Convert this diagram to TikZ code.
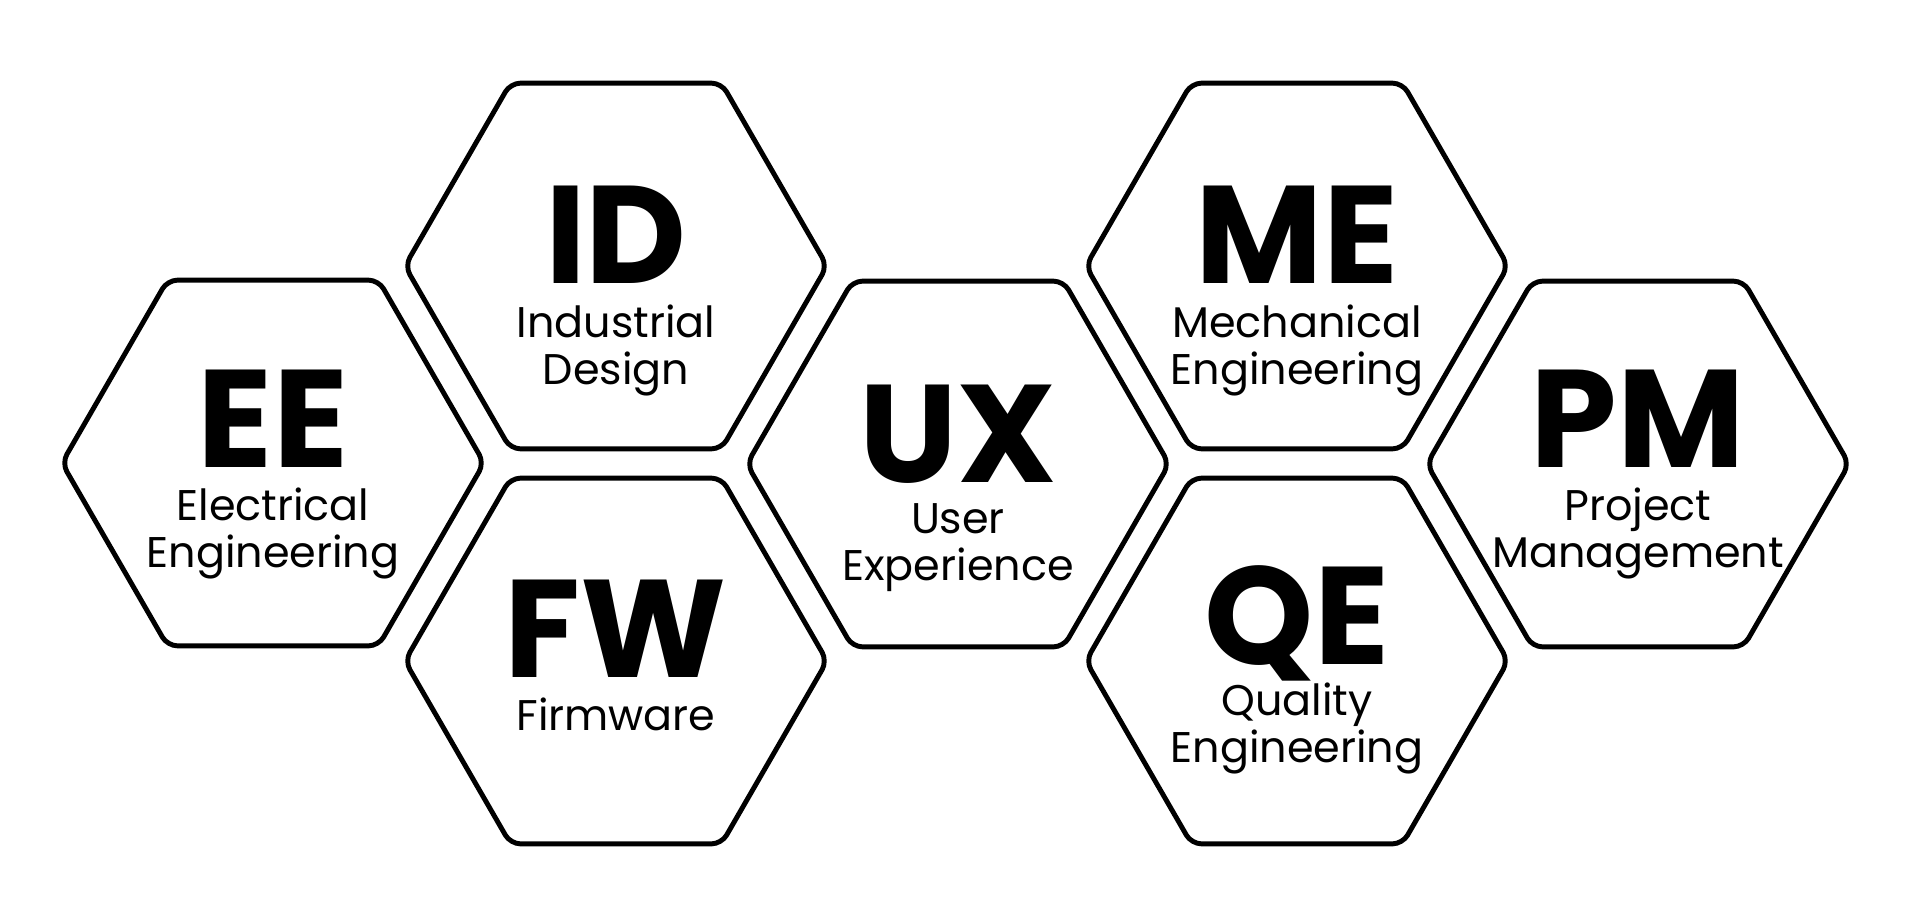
\documentclass[tikz,border=0pt]{standalone}
\usepackage{fontspec}
\setmainfont{Poppins}
\usetikzlibrary{shapes.geometric,positioning}

\begin{document}
\begin{tikzpicture}[
x=0.01cm, y=-0.01cm,
hexa/.style={draw=black, line width=1.4pt, regular polygon, regular polygon sides=6, minimum size=4.22cm, inner sep=0pt, rounded corners=2.8pt},
abbr/.style={anchor=base, inner sep=0pt, font=\fontsize{39.5}{40}\selectfont\bfseries},
sublabel/.style={anchor=base, inner sep=0pt, text width=3.2cm, align=center, font=\fontsize{12.2}{13.6}\selectfont}
]
\useasboundingbox (0,0) rectangle (1920,900);
% cells
\node[hexa] (ee) at (273,463) {};
\node[hexa] (id) at (616,266) {};
\node[hexa] (fw) at (616,661) {};
\node[hexa] (ux) at (958,464) {};
\node[hexa] (me) at (1297,266) {};
\node[hexa] (qe) at (1297,661) {};
\node[hexa] (pm) at (1638,464) {};
% labels
\node[abbr] (ee-a) at (273,467) {EE};
\node[sublabel] (ee-t) at (273,520) {Electrical\\Engineering};
\node[abbr] (id-a) at (616,283) {ID};
\node[sublabel] (id-t) at (616,337) {Industrial\\Design};
\node[abbr] (fw-a) at (616,677) {FW};
\node[sublabel] (fw-t) at (616,730) {Firmware};
\node[abbr] (ux-a) at (958,482) {UX};
\node[sublabel] (ux-t) at (958,533) {User\\Experience};
\node[abbr] (me-a) at (1297,283) {ME};
\node[sublabel] (me-t) at (1297,337) {Mechanical\\Engineering};
\node[abbr] (qe-a) at (1297,664) {QE};
\node[sublabel] (qe-t) at (1297,715) {Quality\\Engineering};
\node[abbr] (pm-a) at (1638,467) {PM};
\node[sublabel] (pm-t) at (1638,520) {Project\\Management};
\end{tikzpicture}
\end{document}
